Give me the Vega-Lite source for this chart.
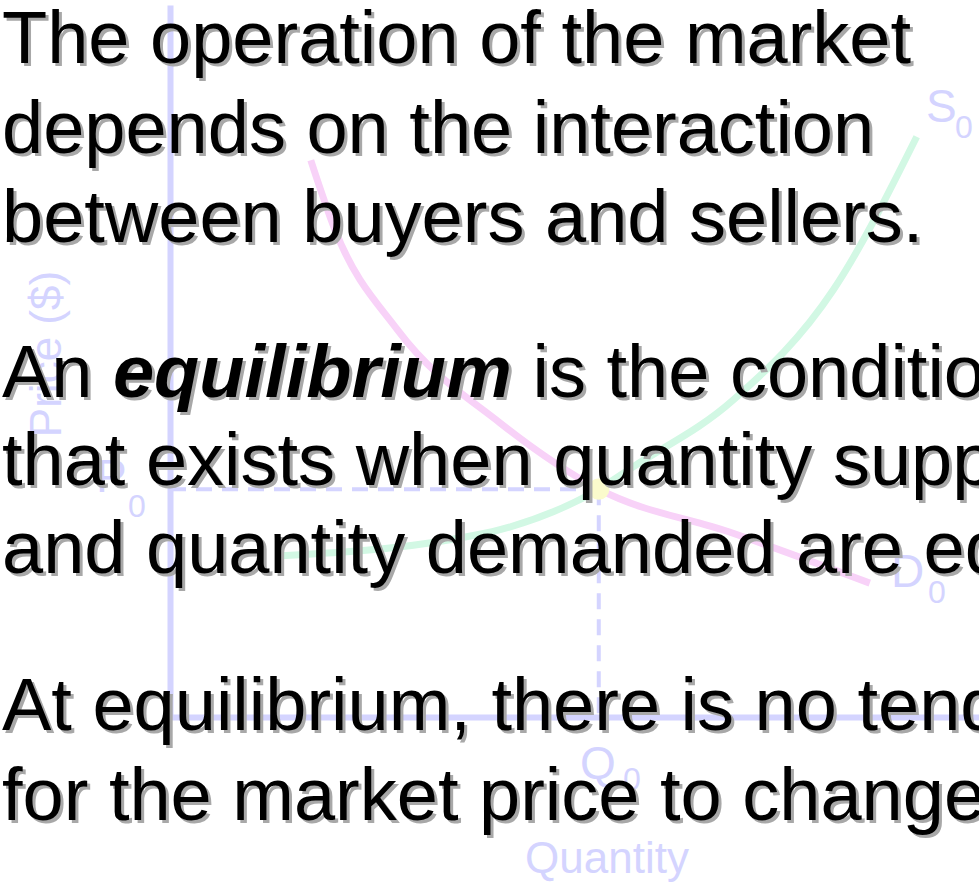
{
  "$schema": "https://vega.github.io/schema/vega-lite/v6.json",
  "width": 809,
  "height": 712,
  "autosize": {"type": "none"},
  "padding": {"left": 170, "top": 5, "right": 0, "bottom": 176},
  "background": "white",
  "config": {
    "view": {"stroke": null},
    "font": "Liberation Sans, Arial, sans-serif",
    "axis": {"title": null, "labels": false, "ticks": false, "grid": false, "domainColor": "#d4d4ff", "domainWidth": 6}
  },
  "datasets": {
    "demand": [
      {"q": 17.4, "p": 78.2}, {"q": 20.4, "p": 68.4}, {"q": 28.1, "p": 54.4}, {"q": 40.8, "p": 41.3},
      {"q": 53, "p": 32}, {"q": 69.6, "p": 25.8}, {"q": 86.5, "p": 18.8}
    ],
    "supply": [
      {"q": 13.2, "p": 22.6}, {"q": 34.6, "p": 24.9}, {"q": 40.8, "p": 26.3}, {"q": 53, "p": 32},
      {"q": 57.2, "p": 35.1}, {"q": 69.6, "p": 44.5}, {"q": 82.0, "p": 60.0}, {"q": 92.3, "p": 81.5}
    ],
    "dashes": [
      {"q": 0, "p": 32, "q2": 53, "p2": 32},
      {"q": 53, "p": 32, "q2": 53, "p2": 0}
    ],
    "eq": [{"q": 53, "p": 32}],
    "letters": [
      {"t": "S", "q": 93.45, "p": 83.57},
      {"t": "D", "q": 89.12, "p": 18.26},
      {"t": "Q", "q": 50.68, "p": -8.71},
      {"t": "P", "q": -9.15, "p": 31.6}
    ],
    "subs": [
      {"t": "0", "q": 97.03, "p": 81.32},
      {"t": "0", "q": 93.70, "p": 16.01},
      {"t": "0", "q": 56.0, "p": -10.25},
      {"t": "0", "q": -5.19, "p": 28.09}
    ],
    "ytitle": [{"t": "Price ($)", "q": -13.47, "p": 50.98}],
    "xtitle": [{"t": "Quantity", "q": 54.02, "p": -21.91}],
    "lines": [
      {"t": "The operation of the market", "q": -20.77, "p": 91.85},
      {"t": "depends on the interaction", "q": -20.77, "p": 79.21},
      {"t": "between buyers and sellers.", "q": -20.77, "p": 66.71},
      {"t": "An", "q": -20.77, "p": 44.94},
      {"t": "is the condition", "q": 44.81, "p": 44.94},
      {"t": "that exists when quantity supplied", "q": -20.77, "p": 32.58},
      {"t": "and quantity demanded are equal.", "q": -20.77, "p": 20.22},
      {"t": "At equilibrium, there is no tendency", "q": -20.77, "p": -1.83},
      {"t": "for the market price to change.", "q": -20.77, "p": -14.47}
    ],
    "emph": [{"t": "equilibrium", "q": -7.05, "p": 44.94}]
  },
  "encoding": {
    "x": {"field": "q", "type": "quantitative", "scale": {"domain": [0, 100], "nice": false, "zero": false}, "axis": {}},
    "y": {"field": "p", "type": "quantitative", "scale": {"domain": [0, 100], "nice": false, "zero": false}, "axis": {}}
  },
  "layer": [
    {"data": {"name": "demand"}, "mark": {"type": "line", "color": "#f8d2f8", "strokeWidth": 7, "interpolate": "monotone"}, "encoding": {}},
    {"data": {"name": "supply"}, "mark": {"type": "line", "color": "#d2f8e4", "strokeWidth": 7, "interpolate": "monotone"}, "encoding": {}},
    {"data": {"name": "dashes"}, "mark": {"type": "rule", "color": "#d4d4ff", "strokeWidth": 4, "strokeDash": [16, 10]},
      "encoding": {"x2": {"field": "q2"}, "y2": {"field": "p2"}}},
    {"data": {"name": "eq"}, "mark": {"type": "circle", "size": 450, "color": "#fbfbcc", "opacity": 1}},
    {"data": {"name": "letters"}, "mark": {"type": "text", "align": "left", "baseline": "alphabetic", "fontSize": 46, "color": "#d4d4ff"},
      "encoding": {"text": {"field": "t"}}},
    {"data": {"name": "subs"}, "mark": {"type": "text", "align": "left", "baseline": "alphabetic", "fontSize": 32, "color": "#d4d4ff"},
      "encoding": {"text": {"field": "t"}}},
    {"data": {"name": "ytitle"}, "mark": {"type": "text", "align": "center", "baseline": "alphabetic", "angle": 270, "fontSize": 44, "color": "#d4d4ff"},
      "encoding": {"text": {"field": "t"}}},
    {"data": {"name": "xtitle"}, "mark": {"type": "text", "align": "center", "baseline": "alphabetic", "fontSize": 44, "color": "#d4d4ff"},
      "encoding": {"text": {"field": "t"}}},
    {"data": {"name": "lines"}, "mark": {"type": "text", "align": "left", "baseline": "alphabetic", "fontSize": 74, "color": "#a8a8a8", "dx": 3, "dy": 3},
      "encoding": {"text": {"field": "t"}}},
    {"data": {"name": "emph"}, "mark": {"type": "text", "align": "left", "baseline": "alphabetic", "fontSize": 74, "fontWeight": "bold", "fontStyle": "italic", "color": "#a8a8a8", "dx": 3, "dy": 3},
      "encoding": {"text": {"field": "t"}}},
    {"data": {"name": "lines"}, "mark": {"type": "text", "align": "left", "baseline": "alphabetic", "fontSize": 74, "color": "#000000"},
      "encoding": {"text": {"field": "t"}}},
    {"data": {"name": "emph"}, "mark": {"type": "text", "align": "left", "baseline": "alphabetic", "fontSize": 74, "fontWeight": "bold", "fontStyle": "italic", "color": "#000000"},
      "encoding": {"text": {"field": "t"}}}
  ]
}
